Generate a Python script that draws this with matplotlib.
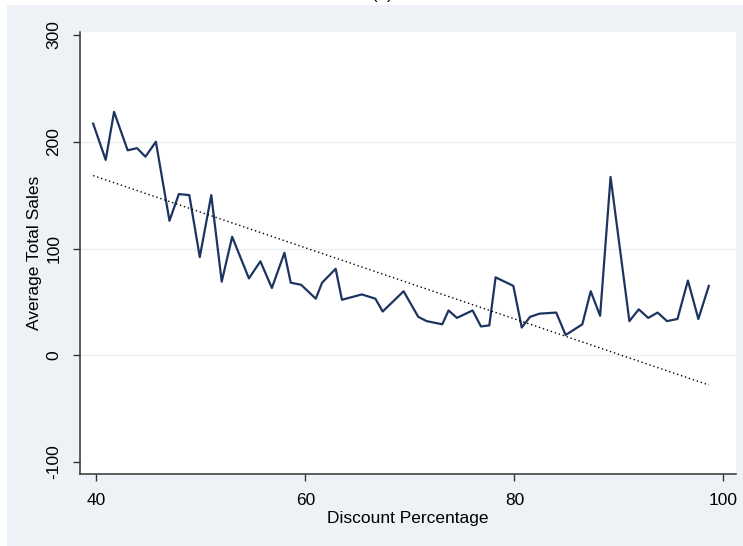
import numpy as np
import matplotlib.pyplot as plt
from matplotlib.patches import Rectangle

plt.rcParams['font.family'] = ['Liberation Sans', 'DejaVu Sans']

# average total sales by discount percentage
discount = [39.7, 40.9, 41.7, 43.0, 43.9, 44.7, 45.7, 47.0, 47.9, 48.9,
            49.9, 51.0, 52.0, 53.0, 54.6, 55.7, 56.8, 58.0, 58.6, 59.6,
            61.0, 61.6, 62.9, 63.5, 65.4, 66.7, 67.4, 69.4, 70.8, 71.6,
            73.1, 73.7, 74.5, 76.0, 76.8, 77.6, 78.2, 79.9, 80.7, 81.5,
            82.4, 84.0, 84.9, 86.5, 87.3, 88.2, 89.2, 91.0, 91.9, 92.8,
            93.7, 94.6, 95.6, 96.6, 97.6, 98.6]
avg_sales = [217, 183, 228, 192, 194, 186, 200, 126, 151, 150,
             92, 150, 69, 111, 72, 88, 63, 96, 68, 66,
             53, 68, 81, 52, 57, 53, 41, 60, 36, 32,
             29, 42, 35, 42, 27, 28, 73, 65, 26, 36,
             39, 40, 19, 29, 60, 37, 167, 32, 43, 35,
             40, 32, 34, 70, 34, 65]

# linear fit line: intercept and slope
fit_intercept = 300.5
fit_slope = -3.33

x_ticks = [40, 60, 80, 100]
y_ticks = [-100, 0, 100, 200, 300]

W, H = 743, 546
fig = plt.figure(figsize=(W / 100, H / 100), dpi=100, facecolor='white')
bg = '#eef2f7'
fig.patches.append(Rectangle((7 / W, 0), 1 - 7 / W, 1 - 5 / H,
                             transform=fig.transFigure, facecolor=bg,
                             edgecolor='none', zorder=-10))

ax = fig.add_axes([80.3 / W, 1 - 474 / H, (736 - 80.3) / W, (474 - 32) / H])
ax.set_facecolor('white')

x = np.array(discount)
ax.plot(x, avg_sales, color='#1d3461', lw=1.6, zorder=3)
xf = np.array([x.min(), x.max()])
ax.plot(xf, fit_intercept + fit_slope * xf, color='black', lw=1.0,
        linestyle=(0, (1, 2)), zorder=3)

for v in [0, 100, 200]:
    ax.axhline(v, color='#e7eef4', lw=1.0, zorder=1)

ax.set_xlim(38.47, 101.2)
ax.set_ylim(-111.2, 302.8)
ax.set_xticks(x_ticks)
ax.set_yticks(y_ticks)
ax.set_yticklabels([str(v) for v in y_ticks], rotation=90, va='center')
ax.tick_params(direction='out', length=5, width=1, color='#333333',
               labelsize=12.5, pad=8.5)

for s in ['top', 'right']:
    ax.spines[s].set_visible(False)
for s in ['left', 'bottom']:
    ax.spines[s].set_color('#333333')
    ax.spines[s].set_linewidth(1.1)

ax.set_xlabel('Discount Percentage', fontsize=12.5, labelpad=2)
ax.set_ylabel('Average Total Sales', fontsize=12.5, labelpad=3)

fig.text(0.515, 1 + 1 / H, '(a)', ha='center', va='baseline', fontsize=12)

fig.savefig('out.png', dpi=100, facecolor='white')
